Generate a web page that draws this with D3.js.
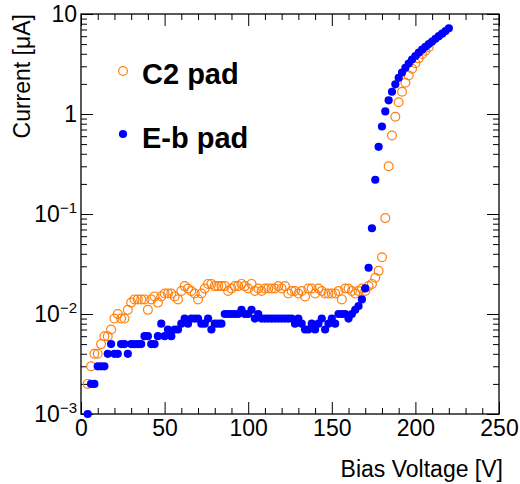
<!DOCTYPE html>
<html>
<head>
<meta charset="utf-8">
<script src="https://cdn.jsdelivr.net/npm/d3@7"></script>
<style>
  body { margin: 0; background: #fff; }
  text { font-family: "Liberation Sans", Arial, sans-serif; }
</style>
</head>
<body>
<div id="chart"></div>
<script>
// C2 pad (open orange circles)
const voltC2 = [4, 6, 8, 10, 12, 14, 16, 18, 20, 22, 24, 26, 28, 30, 32, 34, 36, 38, 40, 42,
  44, 46, 48, 50, 52, 54, 56, 58, 60, 62, 64, 66, 68, 70, 72, 74, 76, 78, 80, 82,
  84, 86, 88, 90, 92, 94, 96, 98, 100, 102, 104, 106, 108, 110, 112, 114, 116, 118, 120, 122,
  124, 126, 128, 130, 132, 134, 136, 138, 140, 142, 144, 146, 148, 150, 152, 154, 156, 158, 160, 162,
  164, 166, 168, 170, 172, 174, 176, 178, 180, 182, 184, 186, 188, 190, 192, 194, 196, 198, 200, 202,
  204, 206, 208];
const currC2 = [0.002, 0.003, 0.004, 0.004, 0.005, 0.006, 0.006, 0.007, 0.009, 0.010, 0.009, 0.009, 0.011, 0.013, 0.014, 0.014, 0.014, 0.014, 0.011, 0.014,
  0.015, 0.013, 0.015, 0.016, 0.016, 0.016, 0.015, 0.014, 0.017, 0.019, 0.018, 0.017, 0.016, 0.014, 0.016, 0.018, 0.020, 0.020, 0.019, 0.019,
  0.019, 0.019, 0.017, 0.018, 0.019, 0.019, 0.020, 0.019, 0.018, 0.020, 0.017, 0.018, 0.017, 0.018, 0.018, 0.018, 0.018, 0.019, 0.018, 0.019,
  0.016, 0.017, 0.017, 0.016, 0.017, 0.015, 0.018, 0.018, 0.016, 0.018, 0.017, 0.016, 0.016, 0.016, 0.016, 0.017, 0.014, 0.018, 0.018, 0.017,
  0.016, 0.017, 0.018, 0.017, 0.019, 0.020, 0.023, 0.027, 0.037, 0.091, 0.30, 0.61, 0.94, 1.31, 1.67, 2.05, 2.43, 2.83, 3.22, 3.6,
  3.98, 4.3, 4.65];

// E-b pad (filled blue circles)
const voltEb = [4, 6, 8, 10, 12, 14, 16, 18, 20, 22, 24, 26, 28, 30, 32, 34, 36, 38, 40, 42,
  44, 46, 48, 50, 52, 54, 56, 58, 60, 62, 64, 66, 68, 70, 72, 74, 76, 78, 80, 82,
  84, 86, 88, 90, 92, 94, 96, 98, 100, 102, 104, 106, 108, 110, 112, 114, 116, 118, 120, 122,
  124, 126, 128, 130, 132, 134, 136, 138, 140, 142, 144, 146, 148, 150, 152, 154, 156, 158, 160, 162,
  164, 166, 168, 170, 172, 174, 176, 178, 180, 182, 184, 186, 188, 190, 192, 194, 196, 198, 200, 202,
  204, 206, 208, 210, 212, 214, 216, 218, 220];
const currEb = [0.001, 0.002, 0.002, 0.003, 0.003, 0.003, 0.004, 0.005, 0.004, 0.004, 0.005, 0.005, 0.004, 0.005, 0.005, 0.005, 0.005, 0.006, 0.006, 0.005,
  0.005, 0.006, 0.008, 0.006, 0.007, 0.006, 0.007, 0.007, 0.008, 0.009, 0.008, 0.009, 0.009, 0.009, 0.008, 0.008, 0.009, 0.007, 0.008, 0.008,
  0.008, 0.010, 0.010, 0.010, 0.010, 0.010, 0.011, 0.010, 0.010, 0.011, 0.009, 0.010, 0.009, 0.009, 0.009, 0.009, 0.009, 0.009, 0.009, 0.009,
  0.009, 0.009, 0.008, 0.009, 0.008, 0.007, 0.007, 0.008, 0.007, 0.008, 0.009, 0.007, 0.008, 0.009, 0.008, 0.010, 0.010, 0.010, 0.009, 0.010,
  0.011, 0.012, 0.014, 0.018, 0.029, 0.072, 0.22, 0.47, 0.75, 1.06, 1.37, 1.67, 1.98, 2.3, 2.6, 2.9, 3.2, 3.5, 3.8, 4.1,
  4.4, 4.7, 5.0, 5.3, 5.65, 6.0, 6.35, 6.75, 7.2];

// axis ticks
const xMajor = [0, 50, 100, 150, 200, 250];
const xMinor = [10, 20, 30, 40, 60, 70, 80, 90, 110, 120, 130, 140, 160, 170, 180, 190, 210, 220, 230, 240];
const yDecades = [0.001, 0.01, 0.1, 1, 10];
const yLabels = [["10", "\u22123"], ["10", "\u22122"], ["10", "\u22121"], ["1", ""], ["10", ""]];

const orange = "#ff7f0e";
const blue = "#0000ff";

const W = 520, H = 484;
const margin = { top: 14, right: 21, bottom: 70, left: 81 };

const svg = d3.select("#chart").append("svg")
    .attr("width", W)
    .attr("height", H);

const x = d3.scaleLinear().domain([0, 250]).range([margin.left, W - margin.right]);
const y = d3.scaleLog().domain([1e-3, 10]).range([H - margin.bottom, margin.top]);

// y minor ticks: 2..9 in each decade
const yMinor = [];
yDecades.slice(0, -1).forEach(d => {
  for (let k = 2; k <= 9; k++) yMinor.push(d * k);
});

function styleAxis(g) {
  g.select(".domain").remove();
  g.selectAll(".tick line").attr("stroke", "#000").attr("stroke-width", 1);
}

const yb = y.range()[0], yt = y.range()[1];
const xl = x.range()[0], xr = x.range()[1];

// bottom
svg.append("g").attr("transform", `translate(0,${yb})`)
    .call(d3.axisBottom(x).tickValues(xMajor).tickSize(-12).tickPadding(6))
    .call(styleAxis)
    .call(g => g.selectAll("text").attr("font-size", 23).attr("fill", "#000")
        .attr("font-family", "Liberation Sans, Arial, sans-serif"));
svg.append("g").attr("transform", `translate(0,${yb})`)
    .call(d3.axisBottom(x).tickValues(xMinor).tickSize(-6).tickFormat(""))
    .call(styleAxis);
// top
svg.append("g").attr("transform", `translate(0,${yt})`)
    .call(d3.axisTop(x).tickValues(xMajor).tickSize(-12).tickFormat(""))
    .call(styleAxis);
svg.append("g").attr("transform", `translate(0,${yt})`)
    .call(d3.axisTop(x).tickValues(xMinor).tickSize(-6).tickFormat(""))
    .call(styleAxis);
// left
svg.append("g").attr("transform", `translate(${xl},0)`)
    .call(d3.axisLeft(y).tickValues(yDecades).tickSize(-12).tickFormat(""))
    .call(styleAxis);
svg.append("g").attr("transform", `translate(${xl},0)`)
    .call(d3.axisLeft(y).tickValues(yMinor).tickSize(-6).tickFormat(""))
    .call(styleAxis);
// right
svg.append("g").attr("transform", `translate(${xr},0)`)
    .call(d3.axisRight(y).tickValues(yDecades).tickSize(-12).tickFormat(""))
    .call(styleAxis);
svg.append("g").attr("transform", `translate(${xr},0)`)
    .call(d3.axisRight(y).tickValues(yMinor).tickSize(-6).tickFormat(""))
    .call(styleAxis);

// y labels with superscripts
const yl = svg.append("g");
yDecades.forEach((d, i) => {
  const t = yl.append("text")
      .attr("x", xl - 4)
      .attr("y", y(d) + 8)
      .attr("text-anchor", "end")
      .attr("font-size", 23);
  t.append("tspan").text(yLabels[i][0]);
  if (yLabels[i][1]) {
    t.append("tspan").attr("font-size", 15).attr("dy", -9).text(yLabels[i][1]);
  }
});

// frame
svg.append("rect")
    .attr("x", xl).attr("y", yt)
    .attr("width", xr - xl).attr("height", yb - yt)
    .attr("fill", "none").attr("stroke", "#000").attr("stroke-width", 1.3);

// axis titles
svg.append("text")
    .attr("x", 503).attr("y", 477)
    .attr("text-anchor", "end")
    .attr("font-size", 23)
    .text("Bias Voltage [V]");
svg.append("text")
    .attr("transform", `translate(30,${yt}) rotate(-90)`)
    .attr("text-anchor", "end")
    .attr("font-size", 23)
    .text("Current [\u03bcA]");

// data
const c2 = voltC2.map((v, i) => ({ v, c: currC2[i] }));
const eb = voltEb.map((v, i) => ({ v, c: currEb[i] }));

svg.append("g").selectAll("circle")
    .data(c2).enter().append("circle")
    .attr("cx", d => x(d.v))
    .attr("cy", d => y(d.c))
    .attr("r", 4.4)
    .attr("fill", "none")
    .attr("stroke", orange)
    .attr("stroke-width", 1.2);

svg.append("g").selectAll("circle")
    .data(eb).enter().append("circle")
    .attr("cx", d => x(d.v))
    .attr("cy", d => y(d.c))
    .attr("r", 4.1)
    .attr("fill", blue);

// legend
const legend = svg.append("g");
legend.append("circle").attr("cx", 123).attr("cy", 71).attr("r", 4.4)
    .attr("fill", "none").attr("stroke", orange).attr("stroke-width", 1.2);
legend.append("circle").attr("cx", 123).attr("cy", 134).attr("r", 4.1)
    .attr("fill", blue);
legend.append("text").attr("x", 142).attr("y", 84)
    .attr("font-size", 29).attr("font-weight", "bold").text("C2 pad");
legend.append("text").attr("x", 142).attr("y", 148)
    .attr("font-size", 29).attr("font-weight", "bold").text("E-b pad");
</script>
</body>
</html>
